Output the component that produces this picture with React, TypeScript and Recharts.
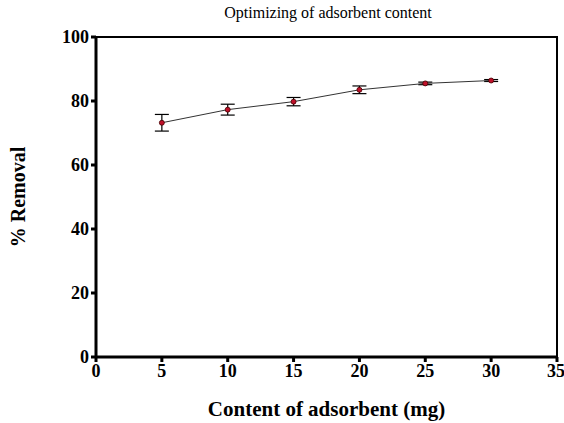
import React from 'react';
import { LineChart, Line, XAxis, YAxis, ErrorBar, ReferenceArea } from 'recharts';

const contents = [5, 10, 15, 20, 25, 30];
const removal = [73.2, 77.3, 79.8, 83.5, 85.5, 86.4];
const errors = [2.6, 1.7, 1.3, 1.2, 0.4, 0.3];
const xTicks = [0, 5, 10, 15, 20, 25, 30, 35];
const yTicks = [0, 20, 40, 60, 80, 100];

const data = contents.map((c, i) => ({ content: c, removal: removal[i], err: errors[i] }));

const font = 'Liberation Serif, Times New Roman, serif';
const labelStyle = { fill: '#000', fontFamily: font, fontWeight: 'bold', fontSize: 18 };

const XTick = (props: any) => (
  <text x={props.x} y={props.y} dy="0.75em" textAnchor="middle" style={labelStyle}>
    {props.payload.value}
  </text>
);

const YTick = (props: any) => (
  <text x={props.x} y={props.y} dy="0.35em" textAnchor="end" style={labelStyle}>
    {props.payload.value}
  </text>
);

export default function App() {
  return (
    <div style={{ position: 'absolute', left: 0, top: 0, width: 564, height: 423, background: '#fff', fontFamily: font }}>
      <LineChart width={564} height={423} data={data} margin={{ top: 37, right: 7, bottom: 36, left: 56 }}>
        <ReferenceArea x1={0} x2={35} y1={0} y2={100} fill="none" stroke="#000" strokeWidth={2} />
        <XAxis
          dataKey="content"
          type="number"
          domain={[0, 35]}
          ticks={xTicks}
          height={30}
          stroke="#000"
          strokeWidth={3}
          tickSize={5}
          tickMargin={1}
          tick={XTick}
          label={{ value: 'Content of adsorbent (mg)', position: 'insideBottom', offset: -29, style: { ...labelStyle, fontSize: 21 } }}
        />
        <YAxis
          type="number"
          domain={[0, 100]}
          ticks={yTicks}
          width={40}
          stroke="#000"
          strokeWidth={3}
          tickSize={5}
          tickMargin={2}
          tick={YTick}
          label={{ value: '% Removal', angle: -90, position: 'insideLeft', offset: -38, style: { ...labelStyle, fontSize: 20, textAnchor: 'middle' } }}
        />
        <Line
          dataKey="removal"
          stroke="#333"
          strokeWidth={1}
          isAnimationActive={false}
          dot={{ r: 2.5, fill: '#c0102a', stroke: '#400', strokeWidth: 0.8 }}
        >
          <ErrorBar dataKey="err" direction="y" width={7} stroke="#000" strokeWidth={1.2} />
        </Line>
        <text x={328} y={18} textAnchor="middle" style={{ fontFamily: font, fontSize: 16, fill: '#000' }}>
          Optimizing of adsorbent content
        </text>
      </LineChart>
    </div>
  );
}
